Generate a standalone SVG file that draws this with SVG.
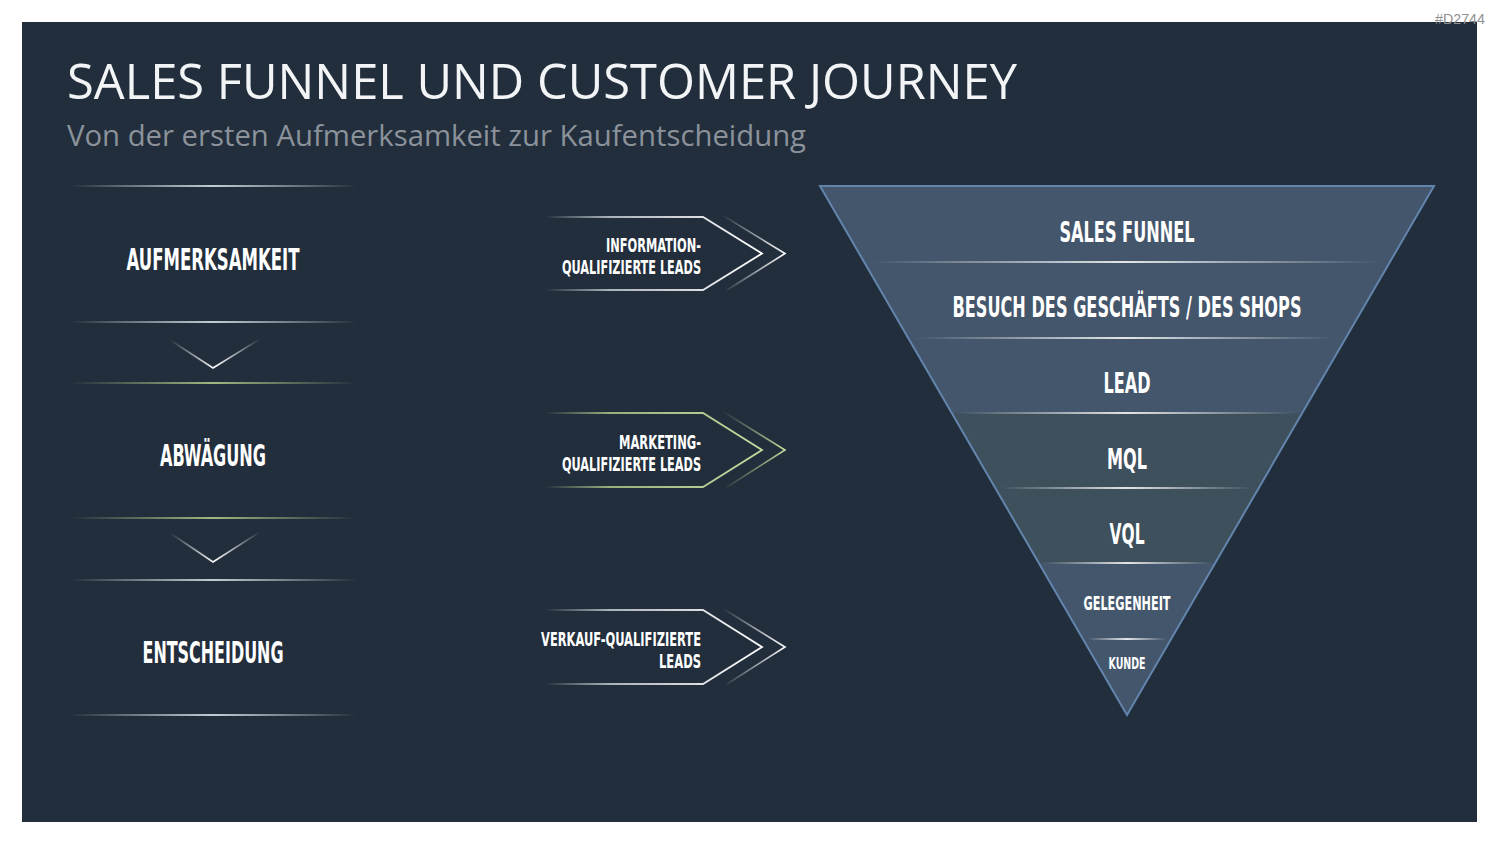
<svg xmlns="http://www.w3.org/2000/svg" width="1500" height="844" viewBox="0 0 1500 844">
<defs>
<linearGradient id="gLine" x1="0" y1="0" x2="1" y2="0">
<stop offset="0" stop-color="#ffffff" stop-opacity="0"/>
<stop offset="0.5" stop-color="#dfe6ee" stop-opacity="0.85"/>
<stop offset="1" stop-color="#ffffff" stop-opacity="0"/>
</linearGradient>
<linearGradient id="gGreen" x1="0" y1="0" x2="1" y2="0">
<stop offset="0" stop-color="#b9cf8c" stop-opacity="0"/>
<stop offset="0.5" stop-color="#b9cf8c" stop-opacity="0.85"/>
<stop offset="1" stop-color="#b9cf8c" stop-opacity="0"/>
</linearGradient>
<linearGradient id="gChev" x1="0" y1="0" x2="1" y2="0">
<stop offset="0" stop-color="#ffffff" stop-opacity="0"/>
<stop offset="0.5" stop-color="#ffffff" stop-opacity="1"/>
<stop offset="1" stop-color="#ffffff" stop-opacity="0"/>
</linearGradient>
<linearGradient id="gArrW" x1="0" y1="0" x2="1" y2="0">
<stop offset="0" stop-color="#ffffff" stop-opacity="0"/>
<stop offset="0.3" stop-color="#e6ebf0" stop-opacity="0.7"/>
<stop offset="1" stop-color="#ffffff" stop-opacity="1"/>
</linearGradient>
<linearGradient id="gArrG" x1="0" y1="0" x2="1" y2="0">
<stop offset="0" stop-color="#c3d79a" stop-opacity="0"/>
<stop offset="0.3" stop-color="#b9cf8c" stop-opacity="0.8"/>
<stop offset="1" stop-color="#c8dca0" stop-opacity="1"/>
</linearGradient>
<linearGradient id="gTipW" x1="0" y1="0" x2="1" y2="0">
<stop offset="0" stop-color="#ffffff" stop-opacity="0"/>
<stop offset="1" stop-color="#ffffff" stop-opacity="1"/>
</linearGradient>
<linearGradient id="gTipG" x1="0" y1="0" x2="1" y2="0">
<stop offset="0" stop-color="#b9cf8c" stop-opacity="0"/>
<stop offset="1" stop-color="#c8dca0" stop-opacity="1"/>
</linearGradient>
<linearGradient id="gSep" x1="0" y1="0" x2="1" y2="0">
<stop offset="0" stop-color="#ffffff" stop-opacity="0"/>
<stop offset="0.5" stop-color="#ffffff" stop-opacity="0.85"/>
<stop offset="1" stop-color="#ffffff" stop-opacity="0"/>
</linearGradient>
</defs>
<style>
.title{font-family:"Open Sans","Liberation Sans",sans-serif;fill:#f2f4f6;font-size:50px}
.sub{font-family:"Open Sans","Liberation Sans",sans-serif;fill:#8b929a;font-size:30px}
.cond{font-family:"Liberation Sans Narrow","DejaVu Sans Condensed","Roboto",sans-serif;font-stretch:condensed;font-weight:bold;fill:#ffffff}
.stage{font-size:30px}
.lbl{font-size:19px}
.fun{font-size:29px}
.wm{font-family:"Liberation Sans",sans-serif;font-size:14.5px;fill:#8f8f8f}
</style>
<rect x="0" y="0" width="1500" height="844" fill="#ffffff"/>
<rect x="22" y="22" width="1455" height="800" fill="#222e3c"/>
<text class="wm" x="1435" y="24" textLength="50" lengthAdjust="spacingAndGlyphs">#D2744</text>
<text class="title" x="67" y="99" textLength="950" lengthAdjust="spacingAndGlyphs">SALES FUNNEL UND CUSTOMER JOURNEY</text>
<text class="sub" x="67" y="146" textLength="739" lengthAdjust="spacingAndGlyphs">Von der ersten Aufmerksamkeit zur Kaufentscheidung</text>

<g id="stage-aufmerksamkeit">
<rect x="70" y="185" width="287" height="2" fill="url(#gLine)"/>
<text class="cond stage" x="213" y="270" text-anchor="middle" textLength="173" lengthAdjust="spacingAndGlyphs">AUFMERKSAMKEIT</text>
<rect x="70" y="321" width="287" height="2" fill="url(#gLine)"/>
</g>
<g id="chevron-1">
<path d="M170,340 L213,368 L260,339" fill="none" stroke="url(#gChev)" stroke-width="1.6"/>
</g>
<g id="stage-abwaegung">
<rect x="70" y="382" width="287" height="2" fill="url(#gGreen)"/>
<text class="cond stage" x="213" y="466" text-anchor="middle" textLength="106" lengthAdjust="spacingAndGlyphs">ABWÄGUNG</text>
<rect x="70" y="517" width="287" height="2" fill="url(#gGreen)"/>
</g>
<g id="chevron-2">
<path d="M170,533 L213,562 L260,532" fill="none" stroke="url(#gChev)" stroke-width="1.6"/>
</g>
<g id="stage-entscheidung">
<rect x="70" y="579" width="287" height="2" fill="url(#gLine)"/>
<text class="cond stage" x="213" y="663" text-anchor="middle" textLength="141" lengthAdjust="spacingAndGlyphs">ENTSCHEIDUNG</text>
<rect x="70" y="714" width="287" height="2" fill="url(#gLine)"/>
</g>

<g id="arrow-iql">
<path d="M545,217 H703 L762,253.5 L703,290 H545" fill="none" stroke="url(#gArrW)" stroke-width="1.8"/>
<path d="M722,215 L785,253.5 L727,290" fill="none" stroke="url(#gTipW)" stroke-width="1.6"/>
<text class="cond lbl" x="701" y="252" text-anchor="end" textLength="95" lengthAdjust="spacingAndGlyphs">INFORMATION-</text>
<text class="cond lbl" x="701" y="274" text-anchor="end" textLength="139" lengthAdjust="spacingAndGlyphs">QUALIFIZIERTE LEADS</text>
</g>
<g id="arrow-mql">
<path d="M545,413 H703 L762,450 L703,487 H545" fill="none" stroke="url(#gArrG)" stroke-width="1.8"/>
<path d="M722,411 L785,450 L727,487" fill="none" stroke="url(#gTipG)" stroke-width="1.6"/>
<text class="cond lbl" x="701" y="449" text-anchor="end" textLength="82" lengthAdjust="spacingAndGlyphs">MARKETING-</text>
<text class="cond lbl" x="701" y="471" text-anchor="end" textLength="139" lengthAdjust="spacingAndGlyphs">QUALIFIZIERTE LEADS</text>
</g>
<g id="arrow-sql">
<path d="M545,610 H703 L762,647 L703,684 H545" fill="none" stroke="url(#gArrW)" stroke-width="1.8"/>
<path d="M722,608 L785,647 L727,684" fill="none" stroke="url(#gTipW)" stroke-width="1.6"/>
<text class="cond lbl" x="701" y="646" text-anchor="end" textLength="160" lengthAdjust="spacingAndGlyphs">VERKAUF-QUALIFIZIERTE</text>
<text class="cond lbl" x="701" y="668" text-anchor="end" textLength="42" lengthAdjust="spacingAndGlyphs">LEADS</text>
</g>

<g id="funnel">
<polygon points="820,186 1434,186 1302.3,413 951.7,413" fill="#44566b"/>
<polygon points="951.7,413 1302.3,413 1215.2,563 1038.8,563" fill="#3f505d"/>
<polygon points="1038.8,563 1215.2,563 1127,715" fill="#44566b"/>
<polygon points="820,186 1434,186 1127,715" fill="none" stroke="#6285ad" stroke-width="2" stroke-linejoin="miter"/>
<rect x="872" y="261" width="506" height="2" fill="url(#gSep)"/>
<rect x="915" y="337" width="420" height="2" fill="url(#gSep)"/>
<rect x="958" y="412" width="338" height="2" fill="url(#gSep)"/>
<rect x="1002" y="487" width="250" height="2" fill="url(#gSep)"/>
<rect x="1043" y="562" width="168" height="2" fill="url(#gSep)"/>
<rect x="1088" y="638" width="78" height="2" fill="url(#gSep)"/>
</g>
<g id="funnel-sales-funnel"><text class="cond fun" x="1127" y="242" text-anchor="middle" textLength="135" lengthAdjust="spacingAndGlyphs">SALES FUNNEL</text></g>
<g id="funnel-besuch"><text class="cond fun" x="1127" y="317" text-anchor="middle" textLength="349" lengthAdjust="spacingAndGlyphs">BESUCH DES GESCHÄFTS / DES SHOPS</text></g>
<g id="funnel-lead"><text class="cond fun" x="1127" y="393" text-anchor="middle" textLength="47" lengthAdjust="spacingAndGlyphs">LEAD</text></g>
<g id="funnel-mql"><text class="cond fun" x="1127" y="469" text-anchor="middle" textLength="40" lengthAdjust="spacingAndGlyphs">MQL</text></g>
<g id="funnel-vql"><text class="cond fun" x="1127" y="544" text-anchor="middle" textLength="35" lengthAdjust="spacingAndGlyphs">VQL</text></g>
<g id="funnel-gelegenheit"><text class="cond" font-size="20" x="1127" y="610" text-anchor="middle" textLength="87" lengthAdjust="spacingAndGlyphs">GELEGENHEIT</text></g>
<g id="funnel-kunde"><text class="cond" font-size="16" x="1127" y="669" text-anchor="middle" textLength="37" lengthAdjust="spacingAndGlyphs">KUNDE</text></g>
</svg>
